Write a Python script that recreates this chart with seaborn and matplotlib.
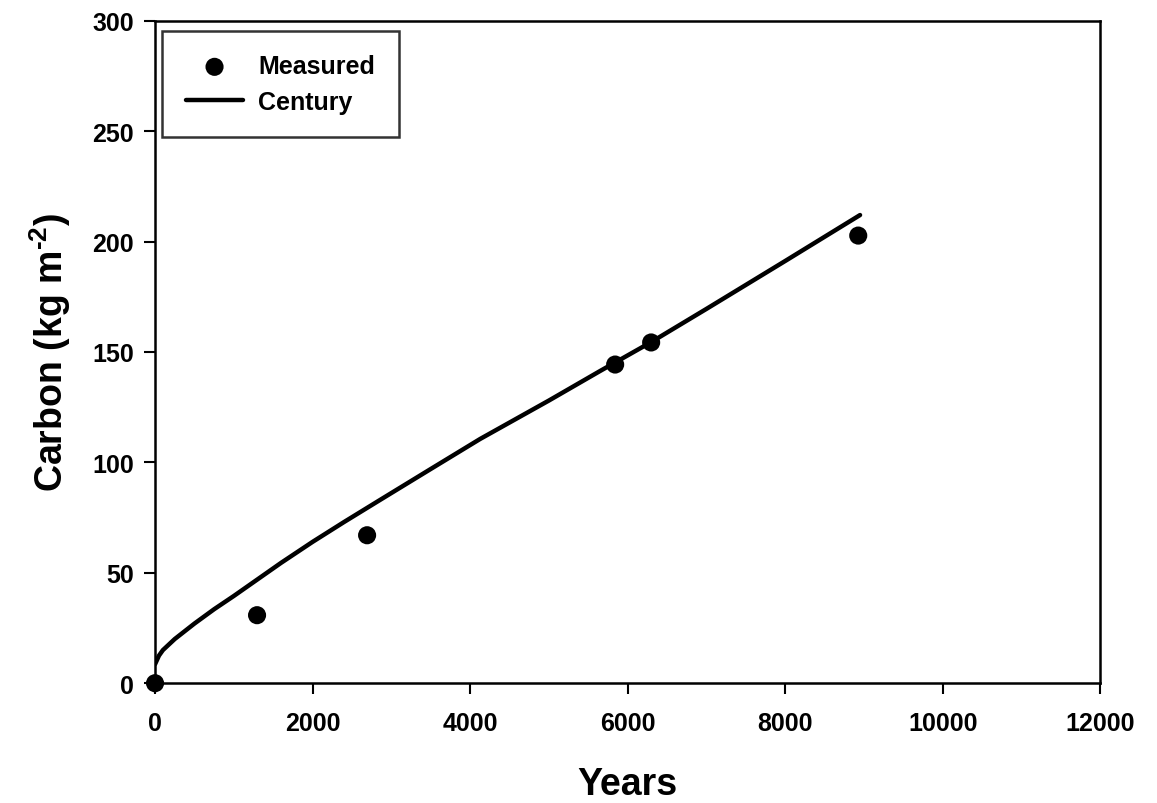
import matplotlib
matplotlib.use("Agg")
import matplotlib.pyplot as plt
import seaborn as sns
import pandas as pd

measured_years = [0, 1295, 2692, 5841, 6298, 8927]
measured_carbon = [0, 30.8, 67, 144.3, 154.3, 202.7]

century_years = [0, 50, 100, 250, 500, 750, 1000, 1300, 1600, 2000, 2400, 2857,
                 3500, 4127, 5000, 5651, 6300, 7000, 8000, 8950]
century_carbon = [8.6, 12.5, 15, 20, 27, 33.5, 39.5, 47, 54.5, 64, 73, 83,
                  97, 110.6, 128, 141.4, 154.5, 169.5, 191.2, 212]

sns.set_theme(style="ticks")
plt.rcParams['font.family'] = ['Liberation Sans', 'DejaVu Sans']
plt.rcParams['font.weight'] = 'bold'
plt.rcParams['mathtext.fontset'] = 'custom'
plt.rcParams['mathtext.rm'] = 'Liberation Sans:bold'
plt.rcParams['mathtext.bf'] = 'Liberation Sans:bold'
plt.rcParams['mathtext.default'] = 'bf'
for k in ['text.color', 'axes.labelcolor', 'xtick.color', 'ytick.color', 'axes.edgecolor']:
    plt.rcParams[k] = 'black'

fig = plt.figure(figsize=(11.57, 8.04), dpi=100)
ax = fig.add_axes([0.134, 0.149, 0.817, 0.824])

df_m = pd.DataFrame({"Years": measured_years, "Carbon": measured_carbon})
df_c = pd.DataFrame({"Years": century_years, "Carbon": century_carbon})

sns.lineplot(data=df_c, x="Years", y="Carbon", ax=ax, color="black", linewidth=3.2,
             label="Century", sort=False)
ax.scatter(df_m["Years"], df_m["Carbon"], s=170, color="black", zorder=5,
           clip_on=False, label="Measured", edgecolors="none")

ax.set_xlim(0, 12000)
ax.set_ylim(0, 300)
ax.set_xticks([0, 2000, 4000, 6000, 8000, 10000, 12000])
ax.set_yticks([0, 50, 100, 150, 200, 250, 300])
ax.tick_params(axis="both", direction="out", length=8, width=1.5, labelsize=18,
               top=False, right=False)
ax.tick_params(axis="x", pad=12)
ax.tick_params(axis="y", pad=7)
for lab in ax.get_xticklabels() + ax.get_yticklabels():
    lab.set_fontweight("bold")
for sp in ax.spines.values():
    sp.set_linewidth(1.8)
    sp.set_color("black")

ax.set_xlabel("Years", fontsize=27, fontweight="bold", labelpad=22)
ax.set_ylabel(r"Carbon (kg m$^{\text{-2}}$)", fontsize=27, fontweight="bold", labelpad=14)

handles, labels = ax.get_legend_handles_labels()
order = [labels.index("Measured"), labels.index("Century")]
leg = ax.legend([handles[i] for i in order], [labels[i] for i in order],
                loc="upper left", fontsize=18, frameon=True, fancybox=False,
                edgecolor="black", borderpad=0.95, handlelength=2.3, handletextpad=0.6,
                labelspacing=0.45, borderaxespad=0.0,
                bbox_to_anchor=(0.0074, 0.985))
leg.get_frame().set_linewidth(1.8)
for t in leg.get_texts():
    t.set_fontweight("bold")

fig.savefig("out.png", dpi=100)
